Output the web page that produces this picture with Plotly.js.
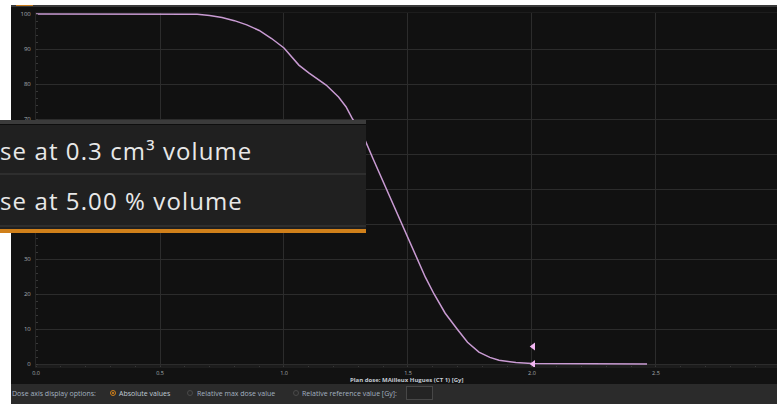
<!DOCTYPE html>
<html>
<head>
<meta charset="utf-8">
<script src="https://cdn.plot.ly/plotly-3.0.1.min.js"></script>
<style>
  html,body{margin:0;padding:0;background:#ffffff;width:777px;height:404px;overflow:hidden;font-family:"Open Sans",sans-serif;}
  #app{position:absolute;left:11px;top:5px;width:766px;height:399px;background:#121212;}
  #topbar{position:absolute;left:11px;top:5px;width:766px;height:2px;background:#3a3a3a;}
  #accent{position:absolute;left:16px;top:5px;width:17px;height:1px;background:#c87a1a;}
  #chart{position:absolute;left:11px;top:7px;width:766px;height:397px;}
  #bottom{position:absolute;left:11px;top:384px;width:766px;height:20px;background:#2b2b2b;color:#a3b2c0;font-size:7px;}
  #bottom span{position:absolute;top:5px;white-space:nowrap;}
  .radio{position:absolute;top:6px;width:6px;height:6px;border-radius:50%;border:1px solid #4a4a4a;box-sizing:border-box;}
  .radio.on{border-color:#d0801a;}
  .radio.on::after{content:"";position:absolute;left:1px;top:1px;width:2px;height:2px;border-radius:50%;background:#e08a1a;}
  #inp{position:absolute;left:395px;top:2px;width:27px;height:14px;border:1px solid #474747;background:#242424;box-sizing:border-box;}
  #popup{position:absolute;left:0;top:120px;width:366px;height:113px;background:#202020;overflow:hidden;}
  #popup .border{position:absolute;left:0;top:0;width:366px;height:4px;background:#3b3b3b;}
  #popup .dark{position:absolute;left:0;top:4px;width:366px;height:1px;background:#0e0e0e;}
  #popup .sep{position:absolute;left:0;top:53px;width:366px;height:2px;background:#2e2e2e;}
  #popup .sep2{position:absolute;left:0;top:105px;width:366px;height:2px;background:#2e2e2e;}
  #popup .orange{position:absolute;left:0;top:109px;width:366px;height:4px;background:#d0801a;}
  #popup .item{position:absolute;left:0;white-space:nowrap;color:#e8e8e8;font-size:24px;line-height:28px;letter-spacing:1.1px;}
</style>
</head>
<body>
<div id="app"></div>
<div id="topbar"></div>
<div id="accent"></div>
<div id="chart"></div>
<div id="bottom">
  <span style="left:1px;">Dose axis display options:</span>
  <div class="radio on" style="left:99px;"></div>
  <span style="left:108px;color:#c0ccd6;">Absolute values</span>
  <div class="radio" style="left:176px;"></div>
  <span style="left:186px;">Relative max dose value</span>
  <div class="radio" style="left:282px;"></div>
  <span style="left:291px;">Relative reference value [Gy]:</span>
  <div id="inp"></div>
</div>
<div id="popup">
  <div class="border"></div>
  <div class="dark"></div>
  <div class="item" style="top:17px;">se at 0.3 cm³ volume</div>
  <div class="sep"></div>
  <div class="item" style="top:67px;">se at 5.00 % volume</div>
  <div class="sep2"></div>
  <div class="orange"></div>
</div>
<script>
// DVH curve: dose [Gy] vs volume [%]
const dose = [0, 0.1, 0.2, 0.3, 0.4, 0.5, 0.6, 0.65, 0.7, 0.75, 0.8, 0.85, 0.9, 0.95, 1.0, 1.03, 1.06, 1.1, 1.17, 1.22, 1.25, 1.274, 1.3, 1.323, 1.36, 1.40, 1.44, 1.476, 1.505, 1.536, 1.57, 1.605, 1.65, 1.698, 1.74, 1.786, 1.83, 1.867, 1.935, 2.0, 2.1, 2.2, 2.3, 2.4, 2.464];
const volume = [100, 100, 100, 100, 100, 100, 100, 99.9, 99.6, 99.0, 98.1, 96.9, 95.3, 93.0, 90.3, 87.8, 85.4, 83.2, 79.7, 76.3, 73.5, 70.3, 67.4, 64.6, 58.5, 52.0, 45.5, 39.7, 35.0, 30.0, 24.8, 20.0, 14.5, 10.0, 6.2, 3.4, 1.9, 1.1, 0.4, 0.15, 0.08, 0.05, 0.03, 0.01, 0];
// Markers (dose at volume objectives)
const markerDose = [2.005, 2.005];
const markerVolume = [5.0, 0.0];
const xTicks = [0, 0.5, 1.0, 1.5, 2.0, 2.5];
const xTickText = ["0.0", "0.5", "1.0", "1.5", "2.0", "2.5"];
const yTicks = [0, 10, 20, 30, 40, 50, 60, 70, 80, 90, 100];
// labels 40-60 are hidden behind the dropdown popup in the reference
const yTickText = ["0", "10", "20", "30", "", "", "", "70", "80", "90", "100"];
const xTitle = "Plan dose: MAilleux Hugues (CT 1) [Gy]";

const traces = [
  {x: dose, y: volume, type: "scatter", mode: "lines",
   line: {color: "#c99bd3", width: 1.5}, hoverinfo: "skip"},
  {x: markerDose, y: markerVolume, type: "scatter", mode: "markers",
   marker: {symbol: "triangle-left", size: 7, color: "#f2b6f2", line: {width: 0}}, hoverinfo: "skip"}
];

const layout = {
  width: 766, height: 397,
  margin: {l: 25, r: 0, t: 6, b: 37, pad: 0},
  paper_bgcolor: "#121212",
  plot_bgcolor: "#111111",
  showlegend: false,
  font: {family: "Open Sans, sans-serif", color: "#a8adb3", size: 6},
  xaxis: {
    range: [0, 2.988], tickvals: xTicks, ticktext: xTickText,
    showgrid: true, gridcolor: "#2c2c2c", gridwidth: 1,
    zeroline: false, showline: true, linecolor: "#1d1d1d", linewidth: 1, mirror: true,
    ticks: "", ticklabelstandoff: 0,
    minor: {dtick: 0.1, ticks: "inside", ticklen: 1.5, tickcolor: "#383838", showgrid: false},
    tickfont: {size: 5.5, color: "#a8adb3"}, fixedrange: true
  },
  yaxis: {
    range: [-0.857, 100.286], tickvals: yTicks, ticktext: yTickText,
    showgrid: true, gridcolor: "#2c2c2c", gridwidth: 1,
    zeroline: false, showline: true, linecolor: "#262626", linewidth: 1,
    ticks: "", ticklabelstandoff: 3,
    minor: {dtick: 2, ticks: "inside", ticklen: 1.5, tickcolor: "#383838", showgrid: false},
    tickfont: {size: 6, color: "#a8adb3"}, fixedrange: true
  },
  shapes: [
    {type: "rect", xref: "paper", yref: "y", x0: 0, x1: 1, y0: -0.857, y1: 0, fillcolor: "#1c1c1c", line: {width: 0}, layer: "below"}
  ],
  annotations: [
    {text: "<b>" + xTitle + "</b>", xref: "paper", yref: "paper", x: 0.5, y: -0.0375,
     xanchor: "center", yanchor: "middle", showarrow: false, font: {size: 6, color: "#c4cbd3"}}
  ]
};

Plotly.newPlot("chart", traces, layout, {staticPlot: true, displayModeBar: false});
</script>
</body>
</html>
